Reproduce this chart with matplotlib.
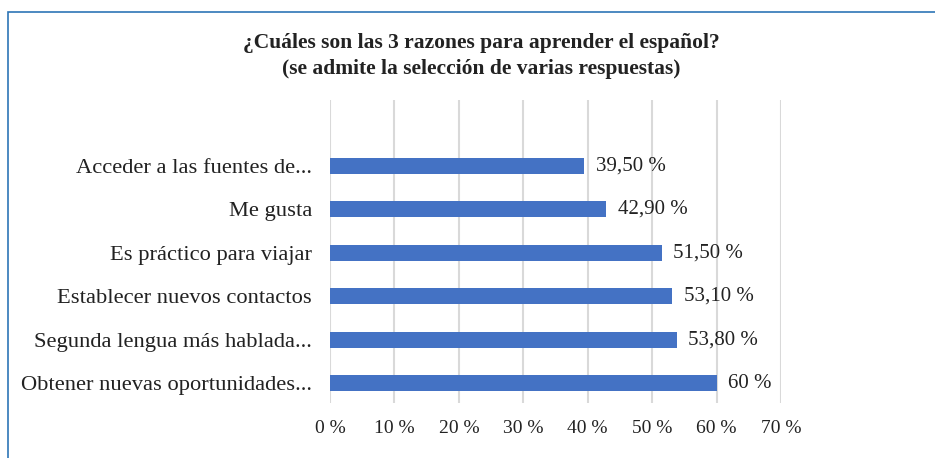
import matplotlib
matplotlib.use("Agg")
import matplotlib.pyplot as plt
import matplotlib.ticker as mtick
from matplotlib.patches import Rectangle

# ── data ─────────────────────────────────────────────────────────────────────
CATEGORIES = [
    "Obtener nuevas oportunidades...",
    "Segunda lengua más hablada...",
    "Establecer nuevos contactos",
    "Es práctico para viajar",
    "Me gusta",
    "Acceder a las fuentes de...",
]
VALUES = [60.0, 53.8, 53.1, 51.5, 42.9, 39.5]
VALUE_LABELS = ["60 %", "53,80 %", "53,10 %", "51,50 %", "42,90 %", "39,50 %"]
TITLE = "¿Cuáles son las 3 razones para aprender el español?\n(se admite la selección de varias respuestas)"

BAR_COLOR = "#4472C4"
GRID_COLOR = "#D9D9D9"
FONT = ["Liberation Serif", "DejaVu Serif"]

W, H = 935, 458
fig = plt.figure(figsize=(W / 100, H / 100), dpi=100)
fig.patch.set_facecolor("white")

# outer frame (only top and left visible in the crop)
fig.add_artist(Rectangle((8 / W, -0.1), 1.2, 1 - 12 / H + 0.1,
                         transform=fig.transFigure, fill=False,
                         edgecolor="#2E75B6", linewidth=1.2))

ax = fig.add_axes([330 / W, 1 - 403 / H, (781 - 330) / W, (403 - 100) / H])
y = list(range(len(CATEGORIES)))
ax.barh(y, VALUES, height=0.37, color=BAR_COLOR, zorder=3)

for yi, v, lab in zip(y, VALUES, VALUE_LABELS):
    ax.text(v + 1.8, yi, lab, va="center", ha="left", fontsize=15,
            family=FONT, color="#222222")

ax.set_xlim(0, 70)
ax.set_ylim(-0.46, 6.52)
ax.set_xticks(range(0, 71, 10))
ax.xaxis.set_major_formatter(mtick.FuncFormatter(lambda x, _: f"{x:.0f} %"))
ax.set_yticks(y)
ax.set_yticklabels(CATEGORIES)
for lbl in ax.get_yticklabels():
    lbl.set_family(FONT)
    lbl.set_fontsize(16.2)
    lbl.set_color("#222222")
for lbl in ax.get_xticklabels():
    lbl.set_family(FONT)
    lbl.set_fontsize(14)
    lbl.set_color("#222222")
ax.tick_params(axis="both", length=0)
ax.tick_params(axis="x", pad=12)
ax.tick_params(axis="y", pad=13)
ax.grid(axis="x", color=GRID_COLOR, linewidth=1.5, zorder=0)
for s in ax.spines.values():
    s.set_visible(False)

fig.text(481 / W, 1 - 56 / H, TITLE, ha="center", va="center",
         fontsize=15.5, fontweight="bold", family=FONT, color="#222222",
         linespacing=1.38)

fig.savefig("out.png", dpi=100, facecolor="white")
